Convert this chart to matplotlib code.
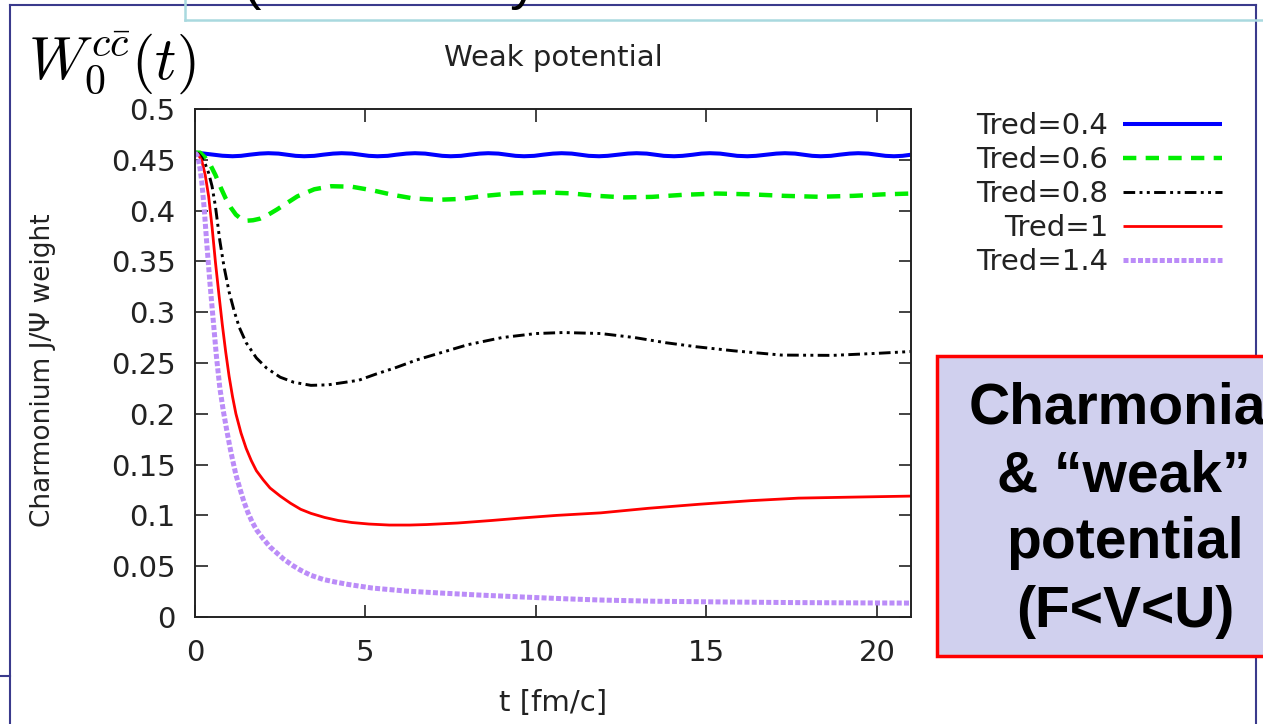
import matplotlib
matplotlib.use("Agg")
import matplotlib.pyplot as plt
from matplotlib.patches import Rectangle
from matplotlib.lines import Line2D

# ---------------- data ----------------
t_04 = [0.0, 0.25, 0.5, 0.8, 1.1, 1.35, 1.6, 1.9, 2.15, 2.45, 2.7, 2.95, 3.2, 3.5, 3.75,
        4.05, 4.3, 4.6, 4.85, 5.1, 5.35, 5.65, 5.9, 6.2, 6.45, 6.75, 7.0, 7.25, 7.5, 7.8,
        8.05, 8.35, 8.6, 8.9, 9.15, 9.4, 9.65, 9.95, 10.2, 10.5, 10.75, 11.05, 11.3,
        11.55, 11.85, 12.1, 12.4, 12.7, 12.95, 13.25, 13.5, 13.75, 14.05, 14.3, 14.6,
        14.85, 15.1, 15.4, 15.65, 15.9, 16.2, 16.45, 16.75, 17.05, 17.3, 17.6, 17.85,
        18.1, 18.35, 18.65, 18.9, 19.2, 19.45, 19.75, 20.0, 20.25, 20.5, 20.75, 21.0]
w_04 = [0.457, 0.4562, 0.4552, 0.4540, 0.4535, 0.4539, 0.4550, 0.4561, 0.4565, 0.4561,
        0.4550, 0.4539, 0.4535, 0.4539, 0.4550, 0.4561, 0.4565, 0.4561, 0.4550, 0.4539,
        0.4535, 0.4539, 0.4550, 0.4561, 0.4565, 0.4561, 0.4550, 0.4539, 0.4535, 0.4539,
        0.4550, 0.4561, 0.4565, 0.4561, 0.4550, 0.4539, 0.4535, 0.4539, 0.4550, 0.4561,
        0.4565, 0.4561, 0.4550, 0.4539, 0.4535, 0.4539, 0.4550, 0.4561, 0.4565, 0.4561,
        0.4550, 0.4539, 0.4535, 0.4539, 0.4550, 0.4561, 0.4565, 0.4561, 0.4550, 0.4539,
        0.4535, 0.4539, 0.4550, 0.4561, 0.4565, 0.4561, 0.4550, 0.4539, 0.4535, 0.4539,
        0.4550, 0.4561, 0.4565, 0.4561, 0.4550, 0.4539, 0.4535, 0.4539, 0.4550]

t_06 = [0.0, 0.15, 0.3, 0.45, 0.6, 0.75, 0.9, 1.05, 1.2, 1.35, 1.5, 1.7, 1.9, 2.15, 2.4,
        2.7, 3.0, 3.5, 4.0, 4.6, 5.2, 5.8, 6.4, 7.1, 7.8, 8.5, 9.3, 10.2, 11.0, 11.8,
        12.6, 13.4, 14.3, 15.3, 16.3, 17.3, 18.3, 19.3, 20.2, 21.0]
w_06 = [0.457, 0.457, 0.452, 0.445, 0.435, 0.423, 0.412, 0.403, 0.396, 0.392, 0.390,
        0.3905, 0.392, 0.396, 0.401, 0.4075, 0.414, 0.421, 0.424, 0.4235, 0.420, 0.4155,
        0.412, 0.4106, 0.4115, 0.4145, 0.417, 0.418, 0.417, 0.4145, 0.413, 0.4135,
        0.4155, 0.4168, 0.416, 0.4145, 0.4136, 0.4145, 0.416, 0.4168]

t_08 = [0.0, 0.1, 0.2, 0.3, 0.4, 0.5, 0.6, 0.73, 0.85, 1.0, 1.15, 1.3, 1.5, 1.8, 2.1,
        2.5, 2.9, 3.4, 3.9, 4.4, 4.8, 5.3, 5.9, 6.5, 7.2, 8.0, 9.0, 10.0, 10.8, 11.9,
        12.9, 13.8, 14.7, 15.8, 17.2, 18.7, 20.0, 21.0]
w_08 = [0.457, 0.456, 0.452, 0.446, 0.437, 0.424, 0.404, 0.370, 0.345, 0.320, 0.301,
        0.285, 0.270, 0.255, 0.245, 0.236, 0.231, 0.228, 0.2285, 0.231, 0.233, 0.239,
        0.2456, 0.253, 0.260, 0.268, 0.275, 0.279, 0.280, 0.279, 0.275, 0.270, 0.266,
        0.262, 0.2578, 0.2575, 0.2595, 0.2613]

t_10 = [0.0, 0.1, 0.2, 0.3, 0.4, 0.5, 0.6, 0.7, 0.8, 0.9, 1.0, 1.1, 1.2, 1.35, 1.5,
        1.65, 1.8, 2.0, 2.2, 2.5, 2.8, 3.1, 3.4, 3.8, 4.2, 4.6, 5.1, 5.7, 6.3, 6.8, 7.7,
        8.7, 9.6, 10.6, 11.9, 13.3, 14.8, 16.3, 17.7, 19.3, 21.0]
w_10 = [0.457, 0.455, 0.449, 0.435, 0.414, 0.384, 0.349, 0.318, 0.288, 0.261, 0.237,
        0.217, 0.200, 0.181, 0.166, 0.154, 0.144, 0.135, 0.127, 0.119, 0.112, 0.106,
        0.102, 0.098, 0.095, 0.093, 0.0915, 0.0905, 0.0905, 0.091, 0.0925, 0.095,
        0.0975, 0.100, 0.1025, 0.107, 0.111, 0.1145, 0.117, 0.118, 0.119]

t_14 = [0.0, 0.05, 0.1, 0.15, 0.2, 0.27, 0.34, 0.44, 0.54, 0.63, 0.73, 0.83, 0.93, 1.02,
        1.1, 1.2, 1.32, 1.43, 1.55, 1.67, 1.8, 2.0, 2.2, 2.4, 2.6, 2.85, 3.1, 3.4, 3.76,
        4.1, 4.5, 5.2, 6.2, 7.2, 8.4, 9.6, 10.8, 11.9, 13.5, 15.5, 17.5, 19.3, 21.0]
w_14 = [0.457, 0.455, 0.450, 0.441, 0.428, 0.402, 0.370, 0.328, 0.290, 0.256, 0.225,
        0.203, 0.184, 0.168, 0.155, 0.140, 0.126, 0.114, 0.103, 0.094, 0.086, 0.077,
        0.069, 0.063, 0.057, 0.051, 0.046, 0.041, 0.037, 0.0345, 0.032, 0.0285, 0.0255,
        0.0236, 0.0215, 0.0197, 0.018, 0.0167, 0.0155, 0.0148, 0.0142, 0.0139, 0.0137]

labels = ["Tred=0.4", "Tred=0.6", "Tred=0.8", "Tred=1", "Tred=1.4"]
x_ticks = [0, 5, 10, 15, 20]
y_ticks = [0, 0.05, 0.1, 0.15, 0.2, 0.25, 0.3, 0.35, 0.4, 0.45, 0.5]
y_tick_labels = ["0", "0.05", "0.1", "0.15", "0.2", "0.25", "0.3", "0.35", "0.4", "0.45", "0.5"]

# ---------------- figure ----------------
W, H = 1263, 724
fig = plt.figure(figsize=(W / 100, H / 100), dpi=100)
fig.patch.set_facecolor("white")

def fx(px):
    return px / W

def fy(py):
    return 1 - py / H

FS = 21
plt.rcParams["font.family"] = ["DejaVu Sans"]
plt.rcParams["mathtext.fontset"] = "cm"

ax = fig.add_axes([fx(195), fy(617), fx(911) - fx(195), fy(109) - fy(617)])

styles = [
    dict(color="#0000ff", lw=2.9, ls="-"),
    dict(color="#00ee00", lw=3.2, ls=(0, (3.0, 2.1))),
    dict(color="#000000", lw=2.1, ls=(0, (4, 1.5, 1, 1.5, 1, 1.5))),
    dict(color="#ff0000", lw=2.0, ls="-"),
    dict(color="#bb8cf8", lw=3.6, ls=(0, (1, 0.45))),
]
series = [(t_04, w_04), (t_06, w_06), (t_08, w_08), (t_10, w_10), (t_14, w_14)]
handles = []
for (tt, ww), st, lab in zip(series, styles, labels):
    h, = ax.plot(tt, ww, label=lab, solid_capstyle="butt", solid_joinstyle="round", **st)
    handles.append(h)

ax.set_xlim(0, 21)
ax.set_ylim(0, 0.5)
ax.set_xticks(x_ticks)
ax.set_xticklabels([str(v) for v in x_ticks])
ax.set_yticks(y_ticks)
ax.set_yticklabels(y_tick_labels)
ax.tick_params(direction="in", length=9, width=1.2, labelsize=FS, colors="#222222",
               top=True, right=True)
ax.tick_params(axis="x", pad=16)
ax.tick_params(axis="y", pad=14)
for sp in ax.spines.values():
    sp.set_linewidth(1.4)
    sp.set_color("#222222")

fig.text(fx(553), fy(58), "Weak potential", fontsize=FS, ha="center", va="center",
         color="#222222")
fig.text(fx(553), fy(703), "t [fm/c]", fontsize=FS, ha="center", va="center",
         color="#222222")
fig.text(fx(43), fy(370), "Charmonium J/Ψ weight", fontsize=FS - 2, rotation=90,
         ha="center", va="center", color="#222222")

leg = fig.legend(handles=handles, labels=labels, loc="upper right",
                 bbox_to_anchor=(fx(1222), fy(112)), frameon=False, markerfirst=False,
                 fontsize=FS, handlelength=3.4, handletextpad=0.5, labelspacing=0.21,
                 borderpad=0, borderaxespad=0)
for txt in leg.get_texts():
    txt.set_color("#222222")

# math label
fig.text(fx(28), fy(63), r"$W_0^{c\bar{c}}(t)$", fontsize=43, ha="left", va="center",
         color="black")

# slide decorations
navy = "#3a3a8c"
fig.add_artist(Line2D([fx(10), fx(1256)], [fy(5), fy(5)], color=navy, lw=1.5))
fig.add_artist(Line2D([fx(10), fx(10)], [fy(5), fy(724)], color=navy, lw=1.5))
fig.add_artist(Line2D([fx(1256), fx(1256)], [fy(5), fy(724)], color=navy, lw=1.5))
fig.add_artist(Line2D([fx(0), fx(10)], [fy(676), fy(676)], color=navy, lw=1.5))
cyan = "#a9d9df"
fig.add_artist(Line2D([fx(185), fx(185)], [fy(0), fy(20)], color=cyan, lw=1.8))
fig.add_artist(Line2D([fx(185), fx(1263)], [fy(20), fy(20)], color=cyan, lw=1.8))
fig.text(fx(242), fy(-2), "(", fontsize=40, family="Liberation Sans", ha="left",
         va="baseline", color="black")
fig.text(fx(510), fy(-2), "y", fontsize=40, family="Liberation Sans", ha="left",
         va="baseline", color="black")

# red box
box = Rectangle((fx(937), fy(656)), fx(1300) - fx(937), fy(356) - fy(656),
                transform=fig.transFigure, facecolor="#d0d0ee", edgecolor="#ff0000",
                lw=2.5, zorder=5)
fig.add_artist(box)
box_lines = ["Charmonia", "& \u201cweak\u201d", "potential", "(F<V<U)"]
box_x = [1117, 1124, 1125, 1125]
box_baselines = [423, 491, 558, 627]
for s, xc, b in zip(box_lines, box_x, box_baselines):
    fig.text(fx(xc), fy(b), s, fontsize=41, fontweight="bold", family="Liberation Sans",
             ha="center", va="baseline", color="black", zorder=6)

fig.savefig("out.png", dpi=100)
